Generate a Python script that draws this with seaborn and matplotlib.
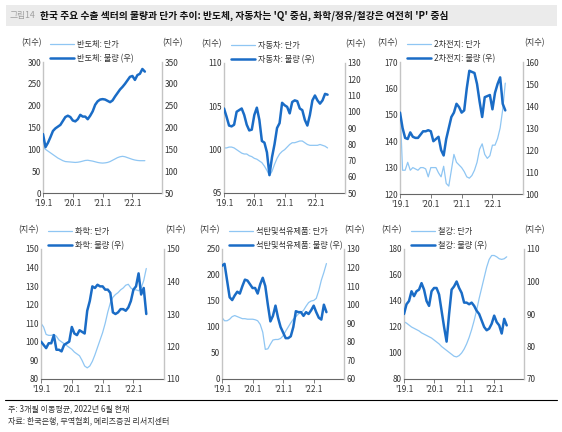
import numpy as np
import pandas as pd
import matplotlib.pyplot as plt
import seaborn as sns
from matplotlib.lines import Line2D
from matplotlib.patches import Rectangle

# ---------------------------------------------
# Data (3-month moving average, 2019.1 ~ 2022.6)
# ---------------------------------------------
months = np.arange(42)
tick_pos = [0, 12, 24, 36]
tick_labels = ["'19.1", "'20.1", "'21.1", "'22.1"]

semi_price = [105, 100, 96, 92, 88, 84, 80, 77, 74, 72, 71.5, 71, 70.5, 70, 70.5, 71.5,
              73, 74.5, 75, 74, 73, 71.5, 70, 69, 68.5, 69, 70, 72, 75, 78, 81, 83,
              84, 83, 81, 79, 77, 75.5, 74.5, 74, 74, 74]
semi_vol = [185, 155, 165, 178, 192, 198, 202, 206, 215, 224, 227, 224, 216, 214, 219, 229,
            225, 225, 219, 227, 237, 252, 260, 264, 265, 264, 261, 258, 262, 271, 279, 287,
            293, 300, 308, 316, 318, 309, 320, 323, 334, 328]

auto_price = [100.2, 100.2, 100.3, 100.3, 100.2, 100.0, 99.8, 99.6, 99.5, 99.5, 99.3, 99.2,
              99.0, 98.9, 98.7, 98.5, 98.1, 97.6, 97.0, 97.5, 98.3, 99.0, 99.5, 99.8,
              100.0, 100.3, 100.6, 100.8, 100.8, 100.9, 101.0, 101.0, 100.8, 100.6, 100.5, 100.5,
              100.5, 100.5, 100.6, 100.5, 100.4, 100.2]
auto_vol = [102, 97, 91.5, 91, 92, 100, 101, 102, 98, 92, 88.5, 89, 98, 102.5, 95, 82,
            81, 75, 61, 72, 80, 90, 93, 105.5, 104, 103, 99, 106, 107, 106.5, 102, 101,
            95, 91.5, 98, 107, 110, 107, 105, 107, 111, 110.5]

batt_price = [153, 129, 129, 132, 129, 130, 129.5, 129, 130, 130, 129.5, 126.5, 130, 130, 130, 128,
              126.5, 130.5, 124, 123, 129, 135, 132, 131, 130, 128.5, 126.5, 126, 127, 129, 132, 137,
              139, 135, 133.5, 134.5, 138.5, 138.5, 141, 145, 152, 162]
batt_vol = [137, 130, 125.5, 125, 128, 126, 125.5, 125.5, 127, 128.5, 128.5, 129, 128.5, 124, 125, 126,
            120, 117.5, 125, 130, 135, 137, 141, 139.5, 137, 138, 148, 156, 155.5, 155, 150, 142,
            135, 144, 144.5, 145, 138.5, 146, 150, 153, 141, 138]

chem_price = [110, 108, 104, 103.5, 103.5, 104, 103, 101, 100, 99, 98, 97, 96, 94.5, 93.5, 92.5,
              90, 87, 86, 87, 89.5, 93, 97, 101, 105, 110, 116, 121, 124, 125.5, 126.5, 128,
              129, 130.5, 131, 129, 128, 128, 127.5, 129, 133, 139.5]
chem_vol = [121.5, 120.5, 119.5, 121, 121, 123.5, 119, 119, 118.5, 120.5, 121, 121.5, 126, 124, 123.5, 125,
            124.5, 124, 131, 134, 138.5, 138, 139, 138.5, 138.5, 137.5, 137.5, 136.5, 130.5, 130, 130.5, 131.5,
            131.5, 131, 132, 134, 137.5, 138.5, 142.5, 136, 138, 130]

oil_price = [118, 112, 112, 115, 120, 122, 120, 118, 116, 116, 115, 115, 115, 114, 112, 105,
             90, 57, 58, 67, 75, 76, 76, 78, 83, 92, 100, 108, 115, 120, 125, 128,
             132, 140, 147, 150, 151, 155, 170, 190, 205, 222]
oil_vol = [121, 122, 113, 104, 102.5, 105, 107, 106, 110, 113.5, 113, 111, 109, 109, 106, 111,
           114.5, 110, 100, 91, 94, 99.5, 93, 88, 85, 82, 82, 83, 88, 96.5, 96, 96,
           94, 96, 95, 97, 99.5, 96, 93, 92, 100, 96]

steel_price = [124, 123, 121.5, 120, 119, 118, 117, 115.5, 114.5, 113.5, 112.5, 111.5, 110, 108.5, 107, 105,
               103.5, 102, 100.5, 99, 97.5, 97, 98, 100, 103, 107, 112, 118, 125, 133, 142, 150,
               158, 166, 172, 175, 175, 174, 172.5, 172, 172.5, 174]
steel_vol = [90, 93, 94, 97, 95.5, 97, 97.5, 99.5, 97.5, 94, 92.5, 97, 98, 98, 96, 91,
             86, 81.5, 90, 97.5, 98.5, 100, 98, 96.5, 93.5, 93.5, 93, 93.5, 92.5, 91, 90, 88,
             86, 85, 85.5, 87, 89.5, 87.5, 86.5, 84, 88.5, 86.5]

names = ['반도체', '자동차', '2차전지', '화학', '석탄및석유제품', '철강']
left_ticks = [np.arange(0, 301, 50), np.arange(95, 111, 5), np.arange(120, 171, 10),
              np.arange(80, 151, 10), np.arange(0, 251, 50), np.arange(80, 181, 20)]
right_ticks = [np.arange(50, 351, 50), np.arange(50, 131, 10), np.arange(100, 161, 10),
               np.arange(110, 151, 10), np.arange(60, 131, 10), np.arange(70, 111, 10)]
prices = [semi_price, auto_price, batt_price, chem_price, oil_price, steel_price]
volumes = [semi_vol, auto_vol, batt_vol, chem_vol, oil_vol, steel_vol]

# ---------------------------------------------
# Style
# ---------------------------------------------
sns.set_theme(style='white')
plt.rcParams['font.family'] = ['Noto Sans CJK KR', 'DejaVu Sans']
plt.rcParams['axes.unicode_minus'] = False

LIGHT = '#8fc6f3'
DARK = '#1a6cc6'
FS = 5.9
W, H = 562, 432

# axes boxes in pixels: x0, x1, y0(top), y1(bottom)
boxes = [(43, 162, 62, 193), (224, 345, 63, 193), (400, 523, 62, 194),
         (41, 164, 249, 379), (222, 344, 249, 379), (404, 524, 249, 379)]

fig = plt.figure(figsize=(W / 100, H / 100), dpi=100)

# title bar
fig.add_artist(Rectangle((6 / W, 1 - 26 / H), 551 / W, 21 / H, transform=fig.transFigure,
                         facecolor='#ebebeb', edgecolor='none'))
fig.text(10 / W, 1 - 15.5 / H, '그림14', fontsize=6.3, color='#a0a0a0', va='center')
fig.text(40 / W, 1 - 15.5 / H,
         "한국 주요 수출 섹터의 물량과 단가 추이: 반도체, 자동차는 'Q' 중심, 화학/정유/철강은 여전히 'P' 중심",
         fontsize=7.0, fontweight='heavy', color='#111', va='center')

for i in range(6):
    x0, x1, y0, y1 = boxes[i]
    ax = fig.add_axes([x0 / W, 1 - y1 / H, (x1 - x0) / W, (y1 - y0) / H])
    sns.lineplot(x=months, y=prices[i], ax=ax, color=LIGHT, linewidth=0.9, legend=False)
    ax2 = ax.twinx()
    sns.lineplot(x=months, y=volumes[i], ax=ax2, color=DARK, linewidth=1.8, legend=False)

    lt, rt = left_ticks[i], right_ticks[i]
    ax.set_ylim(lt[0], lt[-1])
    ax.set_yticks(lt)
    ax2.set_ylim(rt[0], rt[-1])
    ax2.set_yticks(rt)
    ax.set_xlim(0, 47.9)
    ax.set_xticks(tick_pos)
    ax.set_xticklabels(tick_labels)
    ax.set_xlabel('')
    ax.set_ylabel('')
    ax2.set_ylabel('')

    for a in (ax, ax2):
        a.spines['top'].set_visible(False)
    ax.spines['right'].set_visible(False)
    ax2.spines['left'].set_visible(False)
    ax2.spines['bottom'].set_visible(False)
    ax.spines['left'].set_color('#c4c4c4')
    ax.spines['left'].set_linewidth(1.0)
    ax2.spines['right'].set_color('#c4c4c4')
    ax2.spines['right'].set_linewidth(1.0)
    ax.spines['bottom'].set_color('#666666')
    ax.spines['bottom'].set_linewidth(0.8)

    ax.tick_params(axis='x', bottom=True, length=3, width=0.6, color='#666666',
                   labelsize=FS, labelcolor='#333333', pad=1.5)
    ax.tick_params(axis='y', left=False, length=0, labelsize=FS, labelcolor='#333333', pad=1.5)
    ax2.tick_params(axis='y', right=False, length=0, labelsize=FS, labelcolor='#333333', pad=2)

    ax.text(-0.10, 1.145, '(지수)', transform=ax.transAxes, ha='center', va='center',
            fontsize=FS, color='#333333')
    ax2.text(1.09, 1.145, '(지수)', transform=ax.transAxes, ha='center', va='center',
             fontsize=FS, color='#333333')

    handles = [Line2D([], [], color=LIGHT, lw=0.9), Line2D([], [], color=DARK, lw=1.8)]
    labels = [names[i] + ': 단가', names[i] + ': 물량 (우)']
    ax2.legend(handles, labels, loc='lower left', bbox_to_anchor=(0.06, 0.99),
               frameon=False, fontsize=FS, handlelength=2.9, handletextpad=0.4,
               borderpad=0, borderaxespad=0, labelspacing=0.65, labelcolor='#333333')

# footnote
fig.add_artist(Line2D([5 / W, 557 / W], [1 - 400 / H, 1 - 400 / H], transform=fig.transFigure,
                      color='black', lw=0.8))
fig.text(8 / W, 1 - 408.5 / H, '주: 3개월 이동평균, 2022년 6월 현재', fontsize=5.8,
         color='#333333', va='center')
fig.text(8 / W, 1 - 420.5 / H, '자료: 한국은행, 무역협회, 메리츠증권 리서치센터', fontsize=5.8,
         color='#333333', va='center')

fig.savefig('out.png', dpi=100)
